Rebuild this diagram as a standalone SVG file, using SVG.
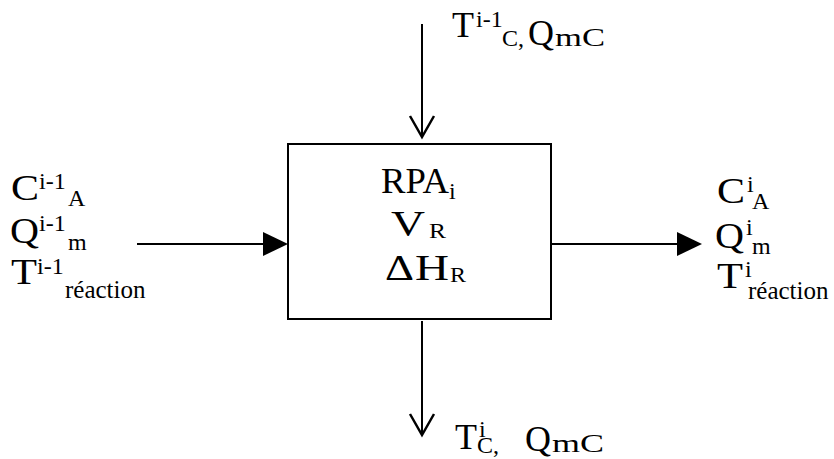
<svg xmlns="http://www.w3.org/2000/svg" width="834" height="459" viewBox="0 0 834 459">
<style>
text { font-family: "Liberation Serif", "Times New Roman", serif; fill: #000; }
.big { font-size: 36px; }
.sm { font-size: 24px; }
.rd { font-size: 25px; }
.rs { font-size: 22px; }
.mc { font-size: 25px; }
.ln { stroke: #000; stroke-width: 2; fill: none; }
.open { stroke: #000; stroke-width: 2.5; fill: none; }
.tri { fill: #000; stroke: none; }
</style>
<rect width="834" height="459" fill="#fff"/>
<g id="connectors">
  <line class="ln" x1="422" y1="24" x2="422" y2="136"/>
  <polyline class="open" points="410,116 422,137 434,116"/>
  <line class="ln" x1="422" y1="321" x2="422" y2="434"/>
  <polyline class="open" points="410,414 422,435 434,414"/>
  <line class="ln" x1="137" y1="244" x2="266" y2="244"/>
  <polygon class="tri" points="263,232 288,244 263,256"/>
  <line class="ln" x1="551" y1="244" x2="680" y2="244"/>
  <polygon class="tri" points="677,232 702,244 677,256"/>
</g>
<g id="reactor">
  <rect class="ln" x="288" y="144" width="263" height="175"/>
  <text class="big" x="381" y="193" textLength="68" lengthAdjust="spacingAndGlyphs">RPA</text>
  <text class="sm" x="449" y="199">i</text>
  <text class="big" x="391" y="236" textLength="34" lengthAdjust="spacingAndGlyphs">V</text>
  <text class="rs" x="429" y="238" textLength="17" lengthAdjust="spacingAndGlyphs">R</text>
  <text class="big" x="385" y="280" textLength="29" lengthAdjust="spacingAndGlyphs">Δ</text>
  <text class="big" x="415" y="280" textLength="34" lengthAdjust="spacingAndGlyphs">H</text>
  <text class="rs" x="450" y="282" textLength="16" lengthAdjust="spacingAndGlyphs">R</text>
</g>
<g id="inlet">
  <text class="big" x="11" y="200" textLength="28" lengthAdjust="spacingAndGlyphs">C</text>
  <text class="sm" x="39" y="189">i-1</text>
  <text class="sm" x="68" y="206">A</text>
  <text class="big" x="10" y="243" textLength="29" lengthAdjust="spacingAndGlyphs">Q</text>
  <text class="sm" x="39" y="231">i-1</text>
  <text class="sm" x="68" y="250">m</text>
  <text class="big" x="11" y="284" textLength="26" lengthAdjust="spacingAndGlyphs">T</text>
  <text class="sm" x="37" y="274">i-1</text>
  <text class="rd" x="65" y="298">réaction</text>
</g>
<g id="outlet">
  <text class="big" x="717" y="203" textLength="28" lengthAdjust="spacingAndGlyphs">C</text>
  <text class="sm" x="747" y="192">i</text>
  <text class="sm" x="752" y="209">A</text>
  <text class="big" x="715" y="248" textLength="29" lengthAdjust="spacingAndGlyphs">Q</text>
  <text class="sm" x="746" y="235">i</text>
  <text class="sm" x="752" y="254">m</text>
  <text class="big" x="717" y="288" textLength="26" lengthAdjust="spacingAndGlyphs">T</text>
  <text class="sm" x="745" y="277">i</text>
  <text class="rd" x="748" y="299">réaction</text>
</g>
<g id="coolant-in">
  <text class="big" x="452" y="37">T</text>
  <text class="sm" x="476" y="27">i-1</text>
  <text class="sm" x="502" y="46">C,</text>
  <text class="big" x="528" y="45">Q</text>
  <text class="mc" x="555" y="46" textLength="50" lengthAdjust="spacingAndGlyphs">mC</text>
</g>
<g id="coolant-out">
  <text class="big" x="455" y="449">T</text>
  <text class="sm" x="479" y="437">i</text>
  <text class="sm" x="477" y="453">C,</text>
  <text class="big" x="525" y="451">Q</text>
  <text class="mc" x="552" y="452" textLength="52" lengthAdjust="spacingAndGlyphs">mC</text>
</g>
</svg>
